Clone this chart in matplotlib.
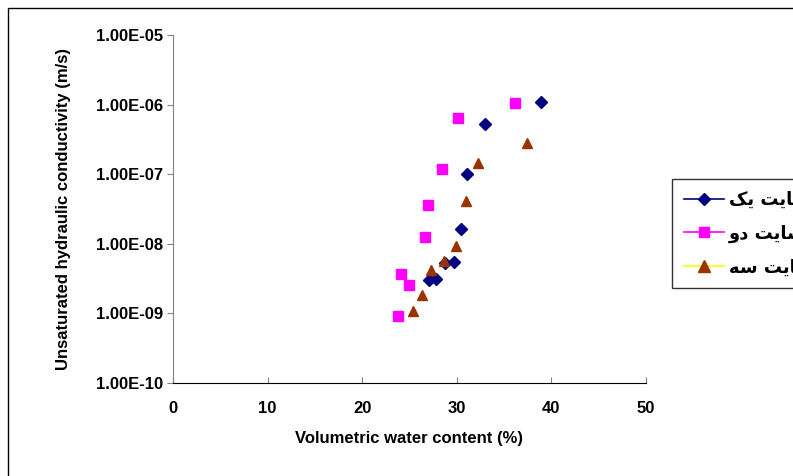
import matplotlib
matplotlib.use("Agg")
import matplotlib.pyplot as plt
from matplotlib.lines import Line2D
from matplotlib.patches import Rectangle
from matplotlib.ticker import FixedLocator, NullLocator

plt.rcParams['font.family'] = ['Liberation Sans', 'DejaVu Sans']

# Data (volumetric water content %, unsaturated hydraulic conductivity m/s)
site1_x = [38.9, 33.0, 31.1, 30.4, 29.7, 28.7, 27.1, 27.8]
site1_y = [1.08e-6, 5.3e-7, 1.0e-7, 1.62e-8, 5.5e-9, 5.3e-9, 3.0e-9, 3.1e-9]
site2_x = [36.15, 30.1, 28.4, 27.0, 26.6, 24.1, 24.9, 23.8]
site2_y = [1.05e-6, 6.5e-7, 1.2e-7, 3.6e-8, 1.24e-8, 3.7e-9, 2.6e-9, 9.1e-10]
site3_x = [37.45, 32.2, 31.0, 29.9, 28.65, 27.3, 26.3, 25.4]
site3_y = [2.85e-7, 1.45e-7, 4.1e-8, 9.2e-9, 5.7e-9, 4.25e-9, 1.86e-9, 1.09e-9]

# Persian legend labels (سایت یک / سایت دو / سایت سه), shaped for display
labels = ['\uFB8F\uFBFE \uFE96\uFBFE\uFE8E\uFEB3',
          '\uFEED\uFEA9 \uFE96\uFBFE\uFE8E\uFEB3',
          '\uFEEA\uFEB3 \uFE96\uFBFE\uFE8E\uFEB3']

x_ticks = [0, 10, 20, 30, 40, 50]
y_ticks = [1e-10, 1e-9, 1e-8, 1e-7, 1e-6, 1e-5]
y_ticklabels = ['1.00E-10', '1.00E-09', '1.00E-08', '1.00E-07', '1.00E-06', '1.00E-05']

W, H = 793, 476
fig = plt.figure(figsize=(W / 100, H / 100), dpi=100)
fig.patches.append(Rectangle((8 / W, -0.1), 1.2, 1 - 8 / H + 0.1, transform=fig.transFigure,
                             fill=False, edgecolor='black', linewidth=1.0))

ax = fig.add_axes([173 / W, 1 - 383 / H, (646 - 173) / W, (383 - 35) / H])
ax.set_yscale('log')
ax.set_xlim(0, 50)
ax.set_ylim(1e-10, 1e-5)

ax.plot(site1_x, site1_y, linestyle='none', marker='D', markersize=6,
        color='#000080', markeredgecolor='#000080', zorder=3)
ax.plot(site2_x, site2_y, linestyle='none', marker='s', markersize=7,
        color='#FF00FF', markeredgecolor='#FF00FF', zorder=3)
ax.plot(site3_x, site3_y, linestyle='none', marker='^', markersize=7.5,
        color='#993300', markeredgecolor='#993300', zorder=4)

for s in ['top', 'right']:
    ax.spines[s].set_visible(False)
ax.spines['left'].set_color('#808080')
ax.spines['bottom'].set_color('black')

ax.xaxis.set_major_locator(FixedLocator(x_ticks))
ax.set_xticklabels([str(v) for v in x_ticks], fontsize=12, fontweight='bold')
ax.yaxis.set_major_locator(FixedLocator(y_ticks))
ax.yaxis.set_minor_locator(NullLocator())
ax.set_yticklabels(y_ticklabels, fontsize=12, fontweight='bold')
ax.tick_params(axis='x', direction='in', length=4, color='#808080', pad=13)
ax.tick_params(axis='y', direction='out', length=4, color='#808080', pad=3)

ax.set_xlabel('Volumetric water content (%)', fontsize=12, fontweight='bold', labelpad=11)
ax.set_ylabel('Unsaturated hydraulic conductivity (m/s)', fontsize=12, fontweight='bold', labelpad=18)

handles = [
    Line2D([], [], color='#000080', marker='D', markersize=6, markerfacecolor='#000080',
           markeredgecolor='#000080', linewidth=1.2),
    Line2D([], [], color='#FF00FF', marker='s', markersize=7, markerfacecolor='#FF00FF',
           markeredgecolor='#FF00FF', linewidth=1.2),
    Line2D([], [], color='#FFFF00', marker='^', markersize=8, markerfacecolor='#993300',
           markeredgecolor='#993300', linewidth=1.2),
]
leg = fig.legend(handles, labels, loc='upper left', bbox_to_anchor=(672 / W, 1 - 179 / H),
                 prop={'family': ['DejaVu Sans'], 'weight': 'bold', 'size': 13},
                 frameon=True, fancybox=False, edgecolor='black', handlelength=2.2,
                 borderpad=0.67, labelspacing=0.86, handletextpad=0.3, borderaxespad=0)
leg.get_frame().set_linewidth(1.0)

fig.savefig('out.png', dpi=100)
